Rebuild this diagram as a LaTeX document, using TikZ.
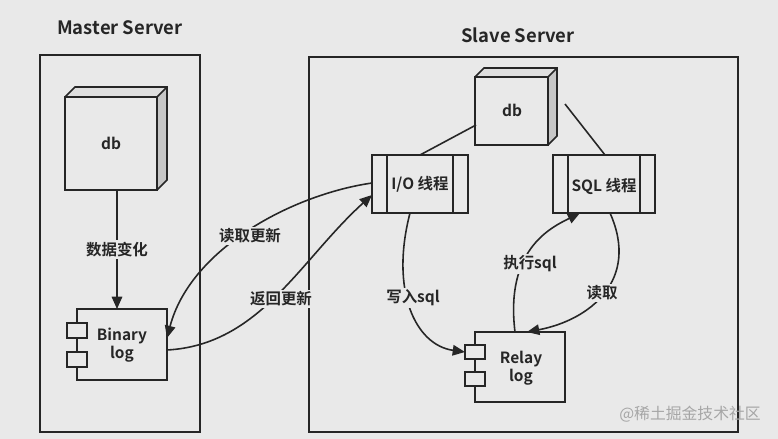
\documentclass[tikz,border=0pt]{standalone}
\usepackage{fontspec}
\setmainfont{Noto Sans CJK SC}[BoldFont={* Bold}]
\usetikzlibrary{arrows.meta}
\begin{document}
\begin{tikzpicture}[x=0.02cm,y=-0.02cm,
  every node/.style={font=\bfseries\fontsize{8.8}{10.5}\selectfont, text=black!85},
  ln/.style={line width=0.9pt, draw=black!85},
  arr/.style={ln,-{Triangle[length=7pt,width=6pt]}},
  lab/.style={fill=bgc, inner sep=1pt},
  title/.style={font=\bfseries\fontsize{10.5}{12}\selectfont}]
\definecolor{bgc}{RGB}{233,233,233}
\fill[bgc] (0,0) rectangle (778,439);
\useasboundingbox (0,0) rectangle (778,439);
% containers
\node[title] (mt) at (120,28) {Master Server};
\node[title] (st) at (518,35) {Slave Server};
\draw[ln] (40,55) rectangle (200,432);
\draw[ln] (309,57) rectangle (738,432);
% master db
\fill[gray!45] (157,97) -- (167,87) -- (167,180) -- (157,190) -- cycle;
\fill[gray!25] (65,97) -- (75,87) -- (167,87) -- (157,97) -- cycle;
\draw[ln,fill=bgc] (65,97) rectangle (157,190);
\draw[ln] (65,97) -- (75,87) -- (167,87) -- (167,180) -- (157,190) (157,97) -- (167,87);
\node (mdb) at (111,143) {db};
\coordinate (mdbb) at (117,190);
% binary log
\draw[ln,fill=bgc] (77,309) rectangle (167,380);
\draw[ln,fill=bgc] (67,323) rectangle (87,338);
\draw[ln,fill=bgc] (67,352) rectangle (87,367);
\node[align=center] (bin) at (122,345) {Binary\\log};
\coordinate (bint) at (117,309);
\draw[arr] (mdbb) -- (bint) node[midway,lab] {数据变化};
% slave db
\fill[gray!45] (548,77) -- (557,68) -- (557,136) -- (548,145) -- cycle;
\fill[gray!25] (475,77) -- (484,68) -- (557,68) -- (548,77) -- cycle;
\draw[ln,fill=bgc] (475,77) rectangle (548,145);
\draw[ln] (475,77) -- (484,68) -- (557,68) -- (557,136) -- (548,145) (548,77) -- (557,68);
\node (sdb) at (512,110) {db};
% IO thread
\draw[ln,fill=bgc] (372,155) rectangle (468,213);
\draw[ln] (387,155) -- (387,213) (453,155) -- (453,213);
\node (io) at (420,184) {I/O 线程};
% SQL thread
\draw[ln,fill=bgc] (553,155) rectangle (655,213);
\draw[ln] (568,155) -- (568,213) (640,155) -- (640,213);
\node (sql) at (604,186) {SQL 线程};
% relay
\draw[ln,fill=bgc] (475,332) rectangle (565,402);
\draw[ln,fill=bgc] (465,345) rectangle (485,359);
\draw[ln,fill=bgc] (465,372) rectangle (485,386);
\node[align=center] (relay) at (521,368) {Relay\\log};
% db links
\draw[ln] (476,125) -- (420,155);
\draw[ln] (565,104) -- (605,155);
% curves
\draw[arr] (372,183) .. controls (290,195) and (190,250) .. (167,338);
\path (250,236) node[lab] (l1) {读取更新};
\draw[arr] (167,350) .. controls (260,345) and (300,260) .. (372,195);
\path (281,299) node[lab] (l2) {返回更新};
\draw[arr] (410,213) .. controls (390,290) and (415,345) .. (465,352);
\path (413,298) node[lab] (l3) {写入sql};
\draw[arr] (515,332) .. controls (505,250) and (550,228) .. (580,213);
\path (530,264) node[lab] (l4) {执行sql};
\draw[arr] (610,213) .. controls (640,280) and (590,320) .. (527,332);
\path (602,293) node[lab] (l5) {读取};
\node[text=gray!70, font=\fontsize{9}{10}\selectfont] (wm) at (690,414) {@稀土掘金技术社区};
\end{tikzpicture}
\end{document}
